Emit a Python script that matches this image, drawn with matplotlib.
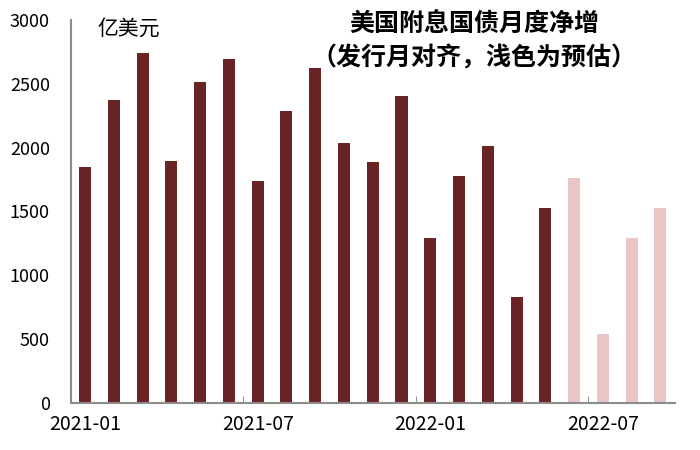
import matplotlib
matplotlib.use('Agg')
import matplotlib.pyplot as plt
import numpy as np

plt.rcParams['font.family'] = ['Noto Sans CJK SC', 'DejaVu Sans']

# 月度数据（亿美元）
months = ['2021-01', '2021-02', '2021-03', '2021-04', '2021-05', '2021-06',
          '2021-07', '2021-08', '2021-09', '2021-10', '2021-11', '2021-12',
          '2022-01', '2022-02', '2022-03', '2022-04', '2022-05', '2022-06',
          '2022-07', '2022-08', '2022-09']
net_issuance = [1850, 2370, 2740, 1895, 2515, 2695,
                1740, 2285, 2620, 2035, 1890, 2405,
                1290, 1775, 2015, 830, 1525, 1760,
                540, 1290, 1525]
is_estimate = [False] * 17 + [True] * 4

dark = '#6B2426'
light = '#E9C6C5'

fig = plt.figure(figsize=(7, 4.5), dpi=100)
ax = fig.add_axes([0.101, 0.104, 0.863, 0.852])

x = np.arange(len(months))
colors = [light if e else dark for e in is_estimate]
ax.bar(x, net_issuance, width=0.42, color=colors, zorder=2)

ax.set_xlim(-0.5, len(months) - 0.5)
ax.set_ylim(0, 3000)
ax.set_yticks(np.arange(0, 3001, 500))
ax.tick_params(axis='y', length=0, labelsize=13, pad=15)

# 标签居中于柱，刻度线位于分类边界
label_idx = [0, 6, 12, 18]
ax.set_xticks(label_idx)
ax.set_xticklabels([months[i] for i in label_idx], fontsize=14)
ax.tick_params(axis='x', length=0, pad=8)
ax.set_xticks([5.5, 11.5, 17.5], minor=True)
ax.tick_params(axis='x', which='minor', length=5, direction='in', color='#808080')

for s in ['top', 'right']:
    ax.spines[s].set_visible(False)
for s in ['left', 'bottom']:
    ax.spines[s].set_color('#8c8c8c')
    ax.spines[s].set_linewidth(1.5)

ax.text(0.045, 1.005, '亿美元', transform=ax.transAxes, fontsize=15,
        ha='left', va='top')
fig.text(0.677, 0.972, '美国附息国债月度净增', fontsize=18, fontweight='bold',
         ha='center', va='top')
fig.text(0.677, 0.898, '（发行月对齐，浅色为预估）', fontsize=18, fontweight='bold',
         ha='center', va='top')

fig.savefig('out.png', dpi=100)
